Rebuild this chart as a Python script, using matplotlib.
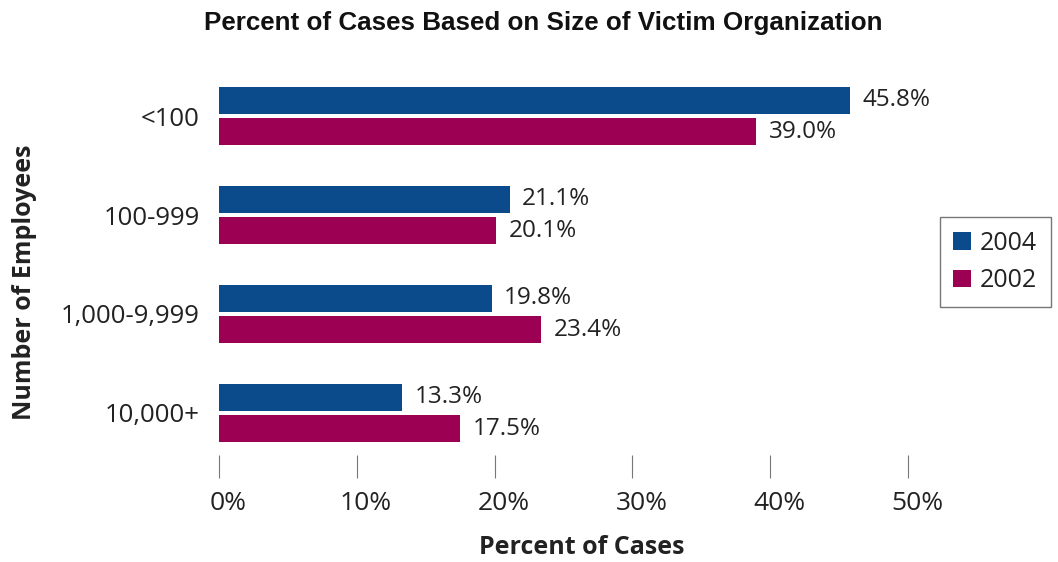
import matplotlib
matplotlib.use('Agg')
import matplotlib.pyplot as plt
import matplotlib.transforms as mtransforms
import numpy as np

categories = ['<100', '100-999', '1,000-9,999', '10,000+']
pct_2004 = [45.8, 21.1, 19.8, 13.3]
pct_2002 = [39.0, 20.1, 23.4, 17.5]
xticks = [0, 10, 20, 30, 40, 50]

blue = '#0B4A8B'
magenta = '#9B0052'
text_col = '#222222'

plt.rcParams['font.family'] = ['Open Sans', 'DejaVu Sans']

fig = plt.figure(figsize=(10.58, 5.62), dpi=100)
ax = fig.add_axes([219 / 1058, 1 - 478 / 562, (908 - 219) / 1058, (478 - 80) / 562])

y = np.arange(len(categories))
h = 0.275
off = 0.16
ax.barh(y - off, pct_2004, height=h, color=blue, label='2004')
ax.barh(y + off, pct_2002, height=h, color=magenta, label='2002')

for yi, v in zip(y, pct_2004):
    ax.text(v + 0.9, yi - off, f'{v:.1f}%', va='center', ha='left',
            fontsize=17.5, color=text_col)
for yi, v in zip(y, pct_2002):
    ax.text(v + 0.9, yi + off, f'{v:.1f}%', va='center', ha='left',
            fontsize=17.5, color=text_col)

ax.set_xlim(0, 50)
ax.set_ylim(3.657, -0.364)
ax.set_yticks(y)
ax.set_yticklabels(categories, fontsize=18.5, color=text_col)
ax.set_xticks(xticks)
ax.set_xticklabels([f'{t}%' for t in xticks], fontsize=19, color=text_col)
ax.tick_params(axis='y', length=0, pad=14)
ax.tick_params(axis='x', direction='in', length=16.5, width=0.8,
               color='#777777', pad=9)
for s in ax.spines.values():
    s.set_visible(False)

# nudge the percent labels a little to the right of their ticks
shift = mtransforms.ScaledTranslation(9 / 100, 0, fig.dpi_scale_trans)
for lbl in ax.get_xticklabels():
    lbl.set_transform(lbl.get_transform() + shift)

fig.text(582 / 1058, 1 - 548 / 562, 'Percent of Cases', ha='center', va='center',
         fontsize=18, fontweight='bold', color=text_col)
fig.text(25 / 1058, 1 - 282 / 562, 'Number of Employees', rotation=90,
         ha='center', va='center', fontsize=18, fontweight='bold', color=text_col)

fig.text(543 / 1058, 1 - 23 / 562, 'Percent of Cases Based on Size of Victim Organization',
         ha='center', va='center', fontsize=18.7, fontweight='bold',
         family='Liberation Sans', color='#111111')

leg = fig.legend(loc='center', bbox_to_anchor=(995 / 1058, 1 - 262 / 562),
                 fontsize=18, frameon=True, fancybox=False, handlelength=0.7,
                 handleheight=0.7, handletextpad=0.35, borderpad=0.55,
                 labelspacing=0.5, borderaxespad=0)
leg.get_frame().set_edgecolor('#555555')
leg.get_frame().set_linewidth(1.0)
for t in leg.get_texts():
    t.set_color(text_col)

fig.savefig('out.png', dpi=100)
